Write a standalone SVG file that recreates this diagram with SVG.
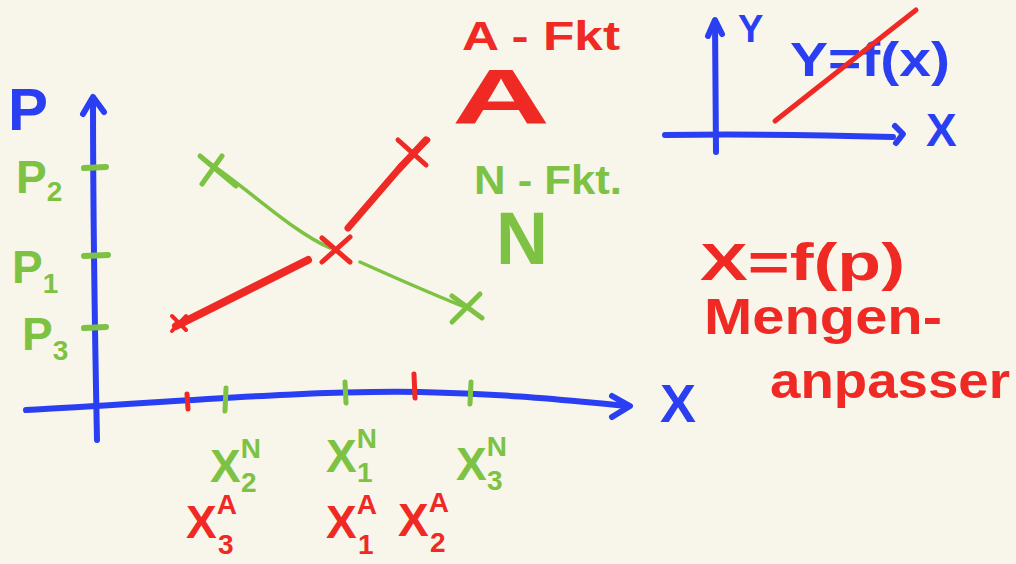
<svg xmlns="http://www.w3.org/2000/svg" width="1016" height="564" viewBox="0 0 1016 564">
<style>
.bg{fill:#f8f5ea}
.b{stroke:#2b3ff2;fill:none;stroke-linecap:round;stroke-linejoin:round}
.r{stroke:#ef2a24;fill:none;stroke-linecap:round;stroke-linejoin:round}
.g{stroke:#7dc243;fill:none;stroke-linecap:round;stroke-linejoin:round}
text{font-family:"Liberation Sans","DejaVu Sans",sans-serif;font-weight:bold}
.tb{fill:#2b3ff2}
.tr{fill:#ef2a24}
.tg{fill:#7dc243}
</style>
<rect class="bg" x="0" y="0" width="1016" height="564"/>

<g id="axes">
  <path class="b" stroke-width="6" d="M97,440 C95,340 93,200 93,98"/>
  <path class="b" stroke-width="6" d="M83,114 L93,97 L104,112"/>
  <path class="b" stroke-width="6" d="M26,410 C150,404 300,390 420,392 C520,394 580,402 628,406"/>
  <path class="b" stroke-width="6" d="M612,396 L630,406 L612,417"/>
</g>

<g id="p-ticks">
  <path class="g" stroke-width="6" d="M84,168 L106,167"/>
  <path class="g" stroke-width="6" d="M84,256 L108,255"/>
  <path class="g" stroke-width="6" d="M84,328 L106,327"/>
</g>

<g id="x-ticks">
  <path class="r" stroke-width="5" d="M187,394 L188,409"/>
  <path class="g" stroke-width="5" d="M226,388 L225,411"/>
  <path class="g" stroke-width="5" d="M345,382 L346,403"/>
  <path class="r" stroke-width="5" d="M414,374 L415,398"/>
  <path class="g" stroke-width="5" d="M471,382 L470,404"/>
</g>

<g id="axis-labels">
  <text class="tb" x="8" y="130" font-size="60">P</text>
  <text class="tb" x="660" y="422" font-size="54">X</text>
  <text class="tg" x="16" y="193" font-size="46">P<tspan font-size="28" dy="8">2</tspan></text>
  <text class="tg" x="12" y="283" font-size="46">P<tspan font-size="28" dy="10">1</tspan></text>
  <text class="tg" x="22" y="350" font-size="46">P<tspan font-size="28" dy="10">3</tspan></text>
</g>

<g id="connectors">
  <path class="r" stroke-width="8" d="M176,326 L308,260"/>
  <path class="r" stroke-width="7" d="M348,228 L398,170 L426,140"/>
  <path class="g" stroke-width="3.5" d="M205,160 C250,190 290,230 330,248"/>
  <path class="g" stroke-width="3.5" d="M360,262 C400,280 435,295 462,306"/>
</g>

<g id="supply-points">
  <path class="r" stroke-width="4" d="M172,316 L186,330 M186,316 L172,331"/>
  <path class="r" stroke-width="5" d="M322,238 L350,262 M350,237 L322,262"/>
  <path class="r" stroke-width="5" d="M398,140 L426,165 M428,140 L400,166"/>
</g>

<g id="demand-points">
  <path class="g" stroke-width="5" d="M200,156 L236,186 M202,184 L222,156"/>
  <path class="g" stroke-width="5" d="M452,296 L482,318 M452,322 L480,294"/>
</g>

<g id="a-fkt">
  <text class="tr" x="462" y="50" font-size="40" textLength="158" lengthAdjust="spacingAndGlyphs">A - Fkt</text>
  <text class="tr" x="452" y="124" font-size="78" textLength="98" lengthAdjust="spacingAndGlyphs">A</text>
</g>

<g id="n-fkt">
  <text class="tg" x="474" y="194" font-size="40" textLength="148" lengthAdjust="spacingAndGlyphs">N - Fkt.</text>
  <text class="tg" x="496" y="264" font-size="74" textLength="52" lengthAdjust="spacingAndGlyphs">N</text>
</g>

<g id="small-graph">
  <path class="b" stroke-width="6" d="M716,152 L715,22"/>
  <path class="b" stroke-width="6" d="M708,36 L715,20 L722,34"/>
  <path class="b" stroke-width="6" d="M665,135 C740,134 820,135 893,137"/>
  <path class="b" stroke-width="6" d="M895,126 L903,134 L896,143"/>
  <text class="tb" x="738" y="42" font-size="38">Y</text>
  <text class="tb" x="790" y="76" font-size="48" textLength="160" lengthAdjust="spacingAndGlyphs">Y=f(x)</text>
  <path class="r" stroke-width="5" d="M775,121 L916,10"/>
  <text class="tb" x="926" y="146" font-size="46">X</text>
</g>

<g id="quantity-note">
  <text class="tr" x="700" y="280" font-size="52" textLength="205" lengthAdjust="spacingAndGlyphs">X=f(p)</text>
  <text class="tr" x="704" y="334" font-size="50" textLength="238" lengthAdjust="spacingAndGlyphs">Mengen-</text>
  <text class="tr" x="770" y="398" font-size="50" textLength="240" lengthAdjust="spacingAndGlyphs">anpasser</text>
</g>

<g id="x-labels">
  <text class="tg" x="210" y="482" font-size="46">X<tspan font-size="28" dy="-24">N</tspan><tspan font-size="28" dx="-20" dy="34">2</tspan></text>
  <text class="tg" x="326" y="472" font-size="46">X<tspan font-size="28" dy="-24">N</tspan><tspan font-size="28" dx="-20" dy="34">1</tspan></text>
  <text class="tg" x="456" y="480" font-size="46">X<tspan font-size="28" dy="-24">N</tspan><tspan font-size="28" dx="-20" dy="34">3</tspan></text>
  <text class="tr" x="186" y="538" font-size="46">X<tspan font-size="28" dy="-24">A</tspan><tspan font-size="28" dx="-19" dy="40">3</tspan></text>
  <text class="tr" x="326" y="538" font-size="46">X<tspan font-size="28" dy="-24">A</tspan><tspan font-size="28" dx="-19" dy="40">1</tspan></text>
  <text class="tr" x="398" y="536" font-size="46">X<tspan font-size="28" dy="-24">A</tspan><tspan font-size="28" dx="-19" dy="40">2</tspan></text>
</g>
</svg>
